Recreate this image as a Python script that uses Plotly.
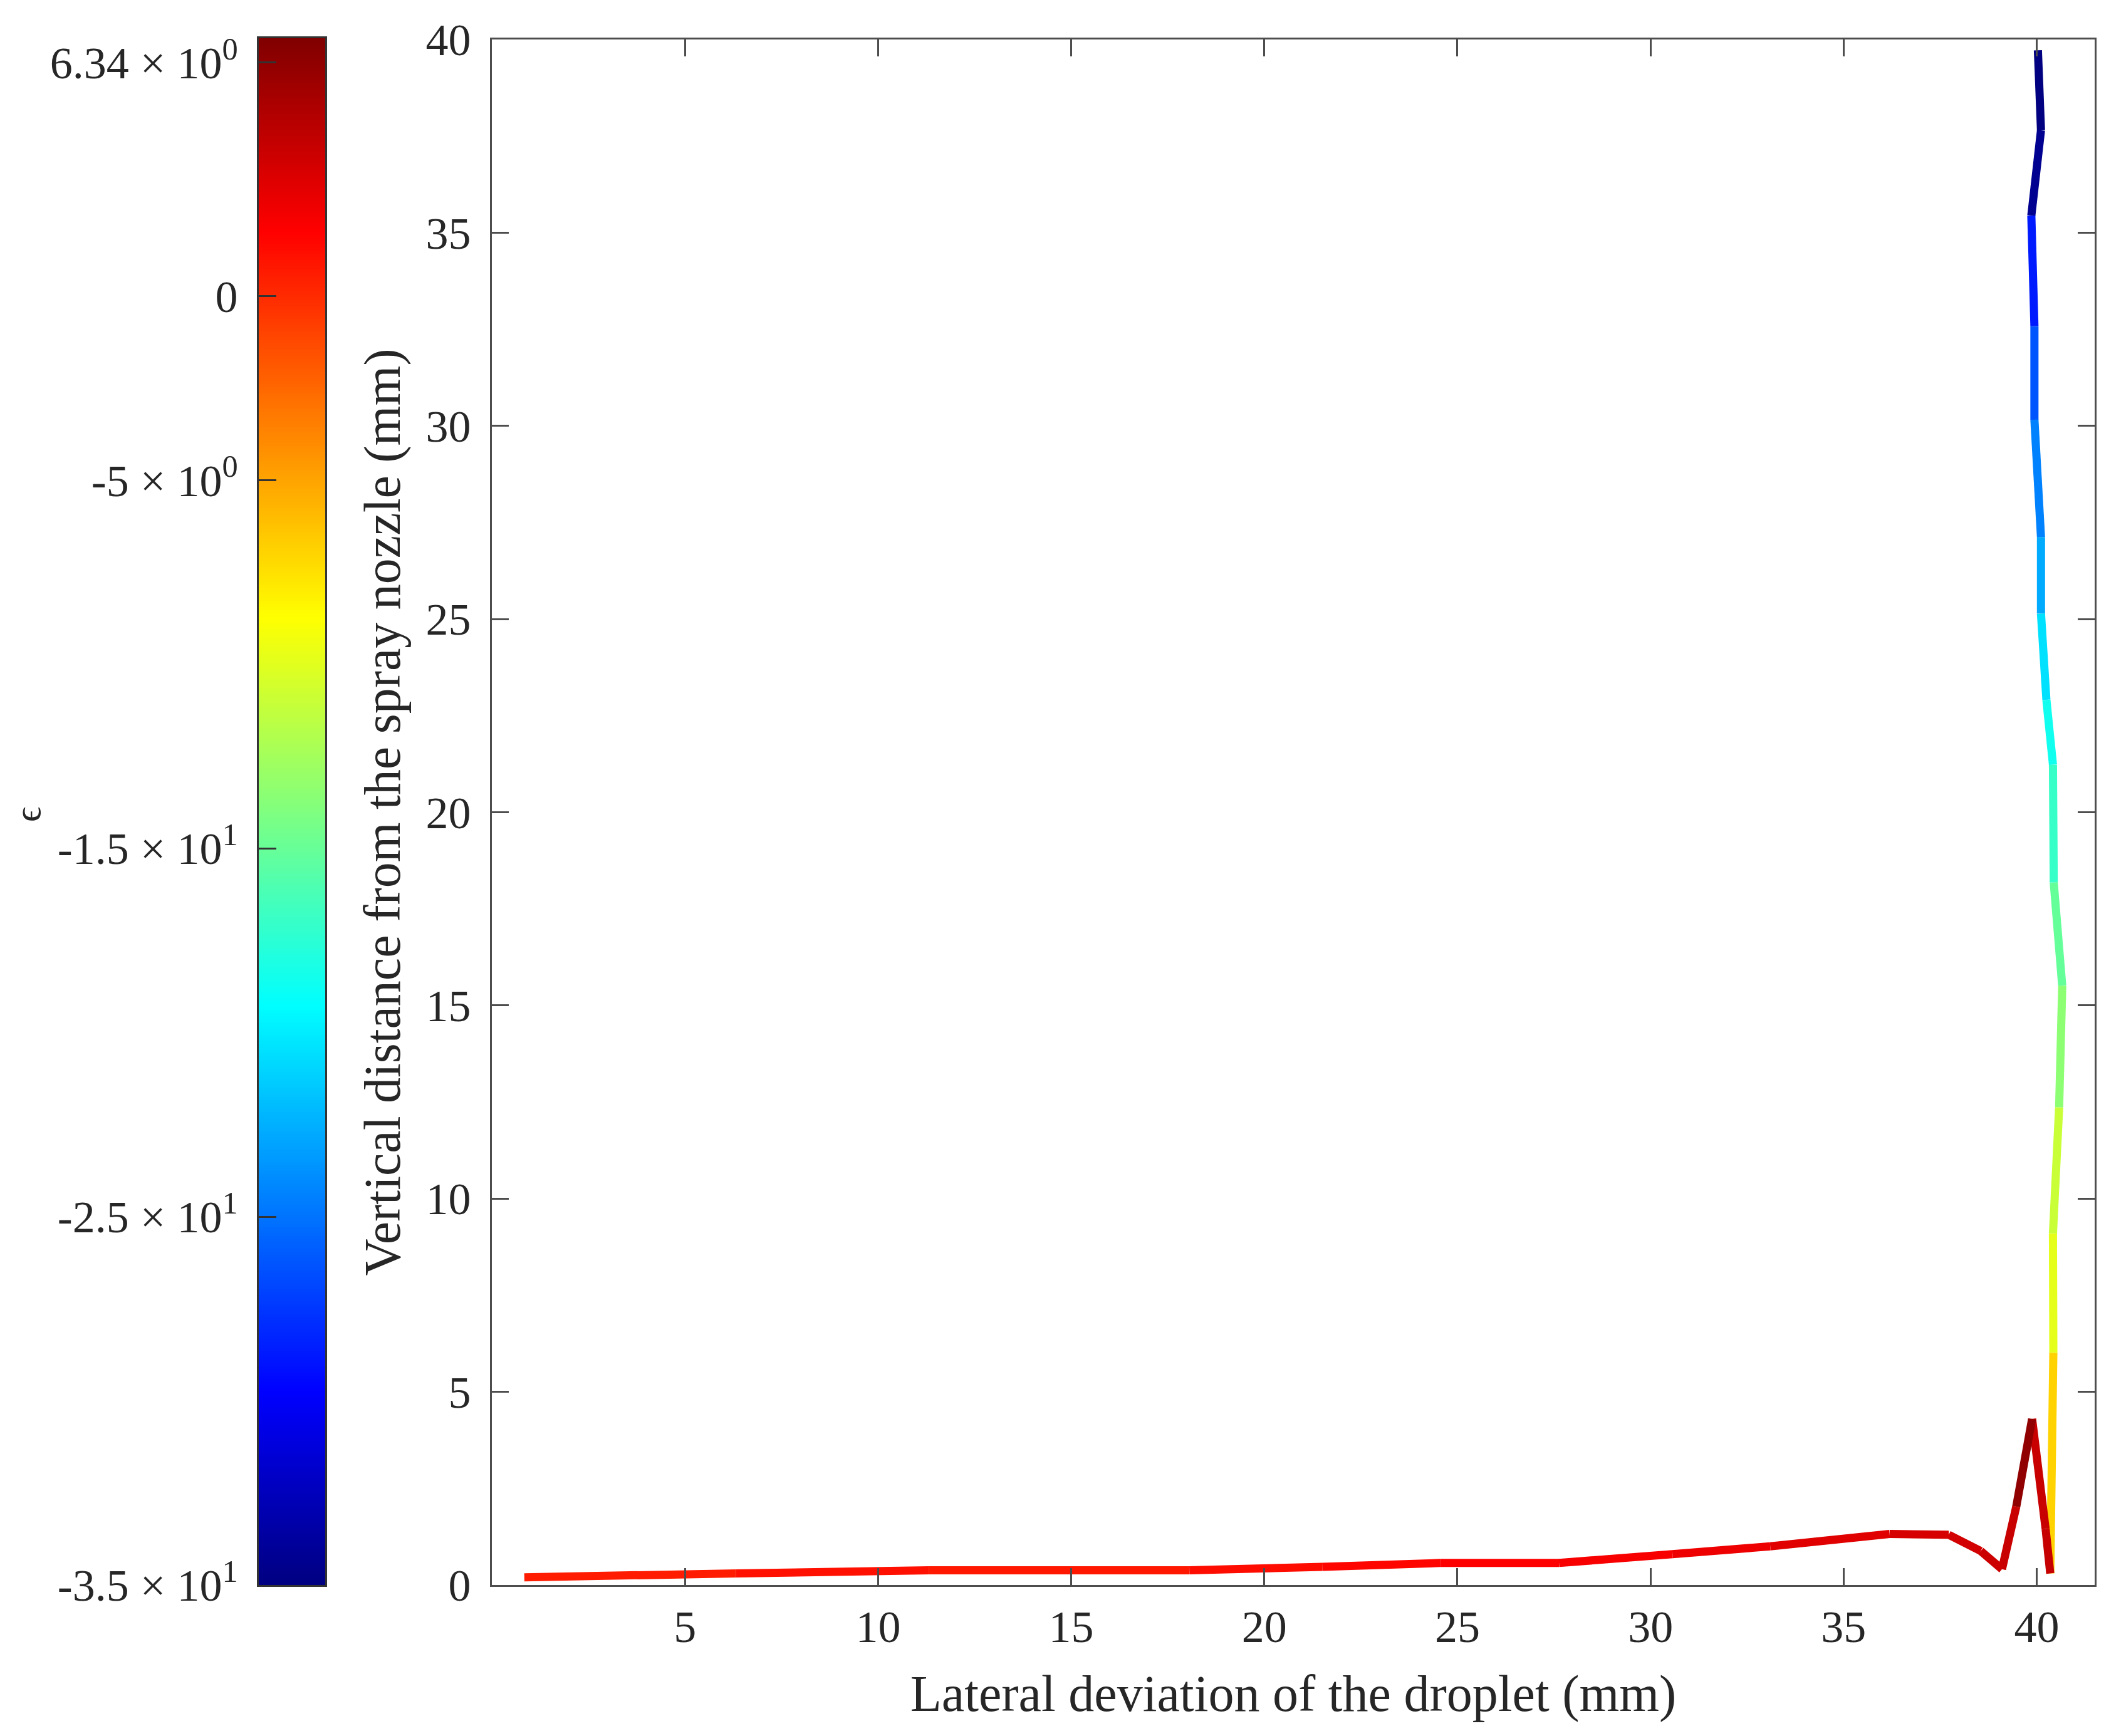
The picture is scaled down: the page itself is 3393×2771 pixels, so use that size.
import numpy as np
import plotly.graph_objects as go
from plotly.colors import sample_colorscale

# ---------------- data ----------------
LATERAL_MM = [40.03, 40.11, 39.86, 39.94, 39.94, 40.11, 40.11, 40.25, 40.42, 40.44,
              40.66, 40.58, 40.42, 40.43, 40.35, 40.23, 39.88, 39.47, 39.10, 38.55,
              37.72, 36.19, 33.10, 30.57, 27.63, 24.55, 21.50, 18.06, 11.31, 6.32, 0.84]
VERTICAL_MM = [39.72, 37.65, 35.44, 32.58, 30.16, 27.12, 25.14, 22.91, 21.23, 18.18,
               15.51, 12.36, 9.10, 6.01, 0.30, 1.45, 4.30, 2.03, 0.41, 0.88,
               1.30, 1.32, 1.00, 0.80, 0.57, 0.57, 0.47, 0.38, 0.38, 0.30, 0.20]
# epsilon value of each segment (between consecutive points)
EPSILON = [-35.0, -34.3, -28.7, -26.25, -24.4, -22.75, -20.5, -18.6, -17.0, -15.1,
           -13.5, -11.0, -9.8, -6.9, 4.1, 4.0, 6.34, 4.0, 3.8, 3.6,
           3.4, 3.0, 2.4, 2.0, 1.75, 1.55, 1.25, 0.8, 1.1, 0.6]

EPS_RANGE = [-35.0, 7.0]
CB_TICK_VALUES = [-35, -25, -15, -5, 0, 6.34]
CB_TICK_TEXT = ["-3.5 × 10<sup>1</sup>", "-2.5 × 10<sup>1</sup>", "-1.5 × 10<sup>1</sup>",
                "-5 × 10<sup>0</sup>", "0", "6.34 × 10<sup>0</sup>"]
X_TICKS = [5, 10, 15, 20, 25, 30, 35, 40]
Y_TICKS = [0, 5, 10, 15, 20, 25, 30, 35, 40]
X_RANGE = [0, 41.5]
Y_RANGE = [0, 40]

# ---------------- styling ----------------
W, H = 3393, 2771
FONT = "Liberation Serif, Times New Roman, serif"
TXT = "#262626"
AX = "#4d4d4d"
JET = [[0.0, "rgb(0,0,128)"], [0.125, "rgb(0,0,255)"], [0.375, "rgb(0,255,255)"],
       [0.625, "rgb(255,255,0)"], [0.875, "rgb(255,0,0)"], [1.0, "rgb(128,0,0)"]]

fig = go.Figure()

# colour bar drawn as a heatmap on its own axes
cb_vals = np.linspace(EPS_RANGE[0], EPS_RANGE[1], 500)
fig.add_trace(go.Heatmap(
    z=[[v] for v in cb_vals], y=cb_vals, x=[0],
    zmin=EPS_RANGE[0], zmax=EPS_RANGE[1], colorscale=JET,
    showscale=False, hoverinfo="skip", xaxis="x2", yaxis="y2"))

# trajectory segments coloured by epsilon
fracs = [(e - EPS_RANGE[0]) / (EPS_RANGE[1] - EPS_RANGE[0]) for e in EPSILON]
cols = sample_colorscale(JET, fracs)
for i in range(len(EPSILON)):
    fig.add_trace(go.Scatter(
        x=LATERAL_MM[i:i + 2], y=VERTICAL_MM[i:i + 2], mode="lines",
        line=dict(color=cols[i], width=13), showlegend=False, hoverinfo="skip"))

axis_common = dict(showline=True, linecolor=AX, linewidth=3, showgrid=False,
                   zeroline=False, ticks="inside", ticklen=27, tickwidth=2.5,
                   tickcolor=AX, automargin=False,
                   tickfont=dict(family=FONT, size=72, color=TXT))

fig.update_layout(
    template="none",
    width=W, height=H, margin=dict(l=0, r=0, t=0, b=0, pad=0),
    paper_bgcolor="white", plot_bgcolor="white", showlegend=False,
    font=dict(family=FONT, color=TXT),
    xaxis=dict(domain=[785 / W, 3343 / W], range=X_RANGE, tickvals=X_TICKS,
               mirror="ticks", anchor="y", ticklabelstandoff=2,
               title=dict(text="Lateral deviation of the droplet (mm)",
                          font=dict(family=FONT, size=82, color=TXT), standoff=38),
               **axis_common),
    yaxis=dict(domain=[1 - 2530 / H, 1 - 63 / H], range=Y_RANGE, tickvals=Y_TICKS,
               mirror="ticks", anchor="x", ticklabelstandoff=16,
               title=dict(text="Vertical distance from the spray nozzle (mm)",
                          font=dict(family=FONT, size=82, color=TXT), standoff=14),
               **axis_common),
    xaxis2=dict(domain=[413 / W, 519 / W], range=[-0.5, 0.5], anchor="y2",
                showline=True, mirror=True, linecolor="#333333", linewidth=3,
                showticklabels=False, ticks="", showgrid=False, zeroline=False,
                automargin=False),
    yaxis2=dict(domain=[1 - 2530 / H, 1 - 61 / H], range=EPS_RANGE, anchor="x2",
                side="left", tickvals=CB_TICK_VALUES, ticktext=CB_TICK_TEXT,
                showline=True, mirror=True, linecolor="#333333", linewidth=3,
                showgrid=False, zeroline=False, ticks="inside", ticklen=28,
                tickwidth=2.5, tickcolor="#333333", ticklabelstandoff=16,
                automargin=False,
                tickfont=dict(family=FONT, size=72, color=TXT)),
    annotations=[dict(text="ϵ", x=44 / W, y=1 - 1300 / H, xref="paper", yref="paper",
                      xanchor="center", yanchor="middle",
                      showarrow=False, textangle=-90,
                      font=dict(family=FONT, size=60, color=TXT))],
)

fig.write_html("out.html", config={"displayModeBar": False},
               post_script="document.body.style.margin='0';")
